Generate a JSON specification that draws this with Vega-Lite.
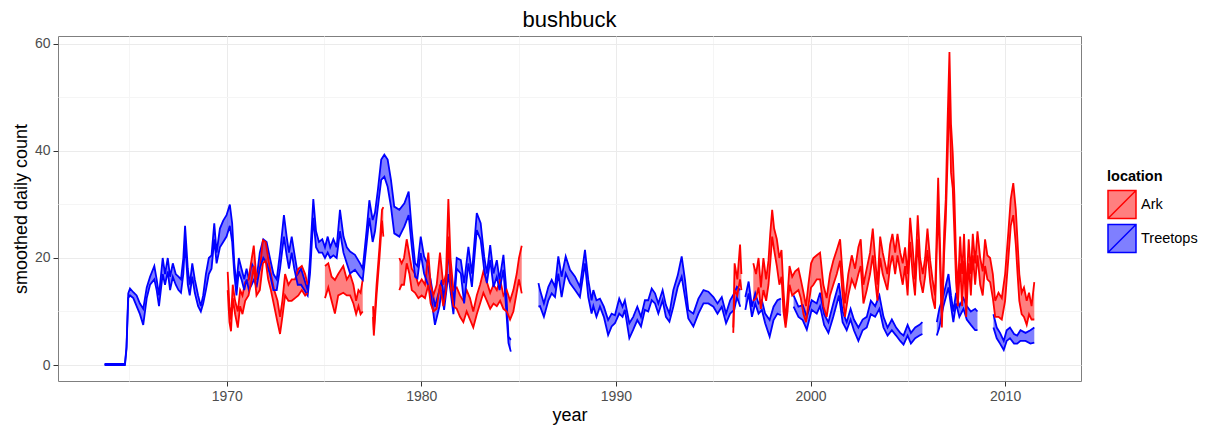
{
"$schema": "https://vega.github.io/schema/vega-lite/v6.json",
"width": 1023, "height": 345,
"autosize": "none",
"padding": {"left": 58, "top": 36, "right": 126, "bottom": 51},
"background": "white",
"title": {"text": "bushbuck", "fontSize": 22, "font": "Liberation Sans", "fontWeight": "normal", "color": "black", "anchor": "middle", "offset": 4},
"config": {
  "font": "Liberation Sans",
  "view": {"stroke": "#7F7F7F", "strokeWidth": 1},
  "axis": {"domain": false, "labelFont": "Liberation Sans", "titleFont": "Liberation Sans", "labelFontSize": 14, "labelColor": "#4D4D4D", "titleFontSize": 18, "titleFontWeight": "normal", "titleColor": "black", "tickColor": "#333333", "tickSize": 5, "tickWidth": 1}
},
"data": {"values": [
{"loc":"Treetops","seg":"T1","year":1963.72,"lo":0,"hi":0.2},
{"loc":"Treetops","seg":"T1","year":1964.77,"lo":0,"hi":0.2},
{"loc":"Treetops","seg":"T1","year":1964.85,"lo":3,"hi":3.4},
{"loc":"Treetops","seg":"T1","year":1964.94,"lo":12.5,"hi":13.4},
{"loc":"Treetops","seg":"T1","year":1965.03,"lo":13,"hi":14.3},
{"loc":"Treetops","seg":"T1","year":1965.2,"lo":12.5,"hi":13.6},
{"loc":"Treetops","seg":"T1","year":1965.37,"lo":11,"hi":13},
{"loc":"Treetops","seg":"T1","year":1965.54,"lo":9.5,"hi":11.5},
{"loc":"Treetops","seg":"T1","year":1965.71,"lo":7.5,"hi":10.5},
{"loc":"Treetops","seg":"T1","year":1965.89,"lo":12.5,"hi":14.5},
{"loc":"Treetops","seg":"T1","year":1966.06,"lo":15,"hi":16.5},
{"loc":"Treetops","seg":"T1","year":1966.28,"lo":16,"hi":18.5},
{"loc":"Treetops","seg":"T1","year":1966.4,"lo":14,"hi":16},
{"loc":"Treetops","seg":"T1","year":1966.52,"lo":11,"hi":13},
{"loc":"Treetops","seg":"T1","year":1966.71,"lo":17,"hi":20},
{"loc":"Treetops","seg":"T1","year":1966.83,"lo":15,"hi":17},
{"loc":"Treetops","seg":"T1","year":1966.97,"lo":17.5,"hi":20},
{"loc":"Treetops","seg":"T1","year":1967.09,"lo":14,"hi":16.5},
{"loc":"Treetops","seg":"T1","year":1967.23,"lo":16.5,"hi":19},
{"loc":"Treetops","seg":"T1","year":1967.38,"lo":15,"hi":17},
{"loc":"Treetops","seg":"T1","year":1967.52,"lo":14,"hi":16.5},
{"loc":"Treetops","seg":"T1","year":1967.65,"lo":13.5,"hi":16},
{"loc":"Treetops","seg":"T1","year":1967.77,"lo":17,"hi":20},
{"loc":"Treetops","seg":"T1","year":1967.86,"lo":23,"hi":26},
{"loc":"Treetops","seg":"T1","year":1968.0,"lo":15,"hi":18},
{"loc":"Treetops","seg":"T1","year":1968.1,"lo":13,"hi":15},
{"loc":"Treetops","seg":"T1","year":1968.23,"lo":16.5,"hi":19},
{"loc":"Treetops","seg":"T1","year":1968.36,"lo":13.5,"hi":16},
{"loc":"Treetops","seg":"T1","year":1968.53,"lo":11,"hi":13},
{"loc":"Treetops","seg":"T1","year":1968.67,"lo":10,"hi":11},
{"loc":"Treetops","seg":"T1","year":1968.79,"lo":11.5,"hi":13},
{"loc":"Treetops","seg":"T1","year":1968.93,"lo":14,"hi":17},
{"loc":"Treetops","seg":"T1","year":1969.08,"lo":17,"hi":20},
{"loc":"Treetops","seg":"T1","year":1969.22,"lo":18,"hi":20.5},
{"loc":"Treetops","seg":"T1","year":1969.36,"lo":23.5,"hi":26.5},
{"loc":"Treetops","seg":"T1","year":1969.48,"lo":19,"hi":21},
{"loc":"Treetops","seg":"T1","year":1969.65,"lo":22,"hi":25.5},
{"loc":"Treetops","seg":"T1","year":1969.82,"lo":23,"hi":27},
{"loc":"Treetops","seg":"T1","year":1969.99,"lo":24,"hi":28},
{"loc":"Treetops","seg":"T1","year":1970.16,"lo":26,"hi":30},
{"loc":"Treetops","seg":"T1","year":1970.28,"lo":23,"hi":26.5},
{"loc":"Treetops","seg":"T1","year":1970.39,"lo":17,"hi":19},
{"loc":"Treetops","seg":"T1","year":1970.5,"lo":13,"hi":15},
{"loc":"Treetops","seg":"T1","year":1970.62,"lo":17.5,"hi":20},
{"loc":"Treetops","seg":"T1","year":1970.76,"lo":16,"hi":18},
{"loc":"Treetops","seg":"T1","year":1970.9,"lo":14,"hi":16},
{"loc":"Treetops","seg":"T1","year":1971.02,"lo":16,"hi":18},
{"loc":"Treetops","seg":"T1","year":1971.14,"lo":14,"hi":16},
{"loc":"Treetops","seg":"T1","year":1971.28,"lo":15,"hi":19},
{"loc":"Treetops","seg":"T1","year":1971.41,"lo":16,"hi":18},
{"loc":"Treetops","seg":"T1","year":1971.53,"lo":14.5,"hi":16},
{"loc":"Treetops","seg":"T1","year":1971.7,"lo":18,"hi":21},
{"loc":"Treetops","seg":"T1","year":1971.88,"lo":20,"hi":23.5},
{"loc":"Treetops","seg":"T1","year":1972.05,"lo":19,"hi":23},
{"loc":"Treetops","seg":"T1","year":1972.22,"lo":17,"hi":20},
{"loc":"Treetops","seg":"T1","year":1972.4,"lo":14,"hi":17},
{"loc":"Treetops","seg":"T1","year":1972.57,"lo":14,"hi":16},
{"loc":"Treetops","seg":"T1","year":1972.74,"lo":18,"hi":21},
{"loc":"Treetops","seg":"T1","year":1972.94,"lo":24,"hi":28},
{"loc":"Treetops","seg":"T1","year":1973.08,"lo":20.5,"hi":24},
{"loc":"Treetops","seg":"T1","year":1973.2,"lo":18,"hi":21},
{"loc":"Treetops","seg":"T1","year":1973.34,"lo":21,"hi":24},
{"loc":"Treetops","seg":"T1","year":1973.47,"lo":18,"hi":21},
{"loc":"Treetops","seg":"T1","year":1973.65,"lo":15,"hi":17},
{"loc":"Treetops","seg":"T1","year":1973.82,"lo":15,"hi":18},
{"loc":"Treetops","seg":"T1","year":1973.99,"lo":14,"hi":16},
{"loc":"Treetops","seg":"T1","year":1974.16,"lo":13,"hi":14},
{"loc":"Treetops","seg":"T1","year":1974.28,"lo":17,"hi":20},
{"loc":"Treetops","seg":"T1","year":1974.45,"lo":27.5,"hi":31},
{"loc":"Treetops","seg":"T1","year":1974.59,"lo":22,"hi":25},
{"loc":"Treetops","seg":"T1","year":1974.74,"lo":21,"hi":23},
{"loc":"Treetops","seg":"T1","year":1974.91,"lo":21,"hi":23.5},
{"loc":"Treetops","seg":"T1","year":1975.05,"lo":20,"hi":22},
{"loc":"Treetops","seg":"T1","year":1975.19,"lo":21,"hi":24},
{"loc":"Treetops","seg":"T1","year":1975.32,"lo":20,"hi":22},
{"loc":"Treetops","seg":"T1","year":1975.48,"lo":20.5,"hi":23.5},
{"loc":"Treetops","seg":"T1","year":1975.65,"lo":20,"hi":22},
{"loc":"Treetops","seg":"T1","year":1975.82,"lo":25,"hi":29},
{"loc":"Treetops","seg":"T1","year":1976.0,"lo":21,"hi":24},
{"loc":"Treetops","seg":"T1","year":1976.17,"lo":19,"hi":22},
{"loc":"Treetops","seg":"T1","year":1976.34,"lo":17.1,"hi":21.2},
{"loc":"Treetops","seg":"T1","year":1976.59,"lo":17.8,"hi":20.6},
{"loc":"Treetops","seg":"T1","year":1976.85,"lo":16.5,"hi":19},
{"loc":"Treetops","seg":"T1","year":1976.99,"lo":15.9,"hi":18},
{"loc":"Treetops","seg":"T1","year":1977.19,"lo":22.7,"hi":25.2},
{"loc":"Treetops","seg":"T1","year":1977.33,"lo":27.5,"hi":30.8},
{"loc":"Treetops","seg":"T1","year":1977.5,"lo":23,"hi":27.1},
{"loc":"Treetops","seg":"T1","year":1977.62,"lo":25,"hi":28.5},
{"loc":"Treetops","seg":"T1","year":1977.77,"lo":29.6,"hi":32.8},
{"loc":"Treetops","seg":"T1","year":1977.94,"lo":34.6,"hi":38.4},
{"loc":"Treetops","seg":"T1","year":1978.1,"lo":35.2,"hi":39.3},
{"loc":"Treetops","seg":"T1","year":1978.27,"lo":33.3,"hi":38.4},
{"loc":"Treetops","seg":"T1","year":1978.44,"lo":29.6,"hi":34.6},
{"loc":"Treetops","seg":"T1","year":1978.61,"lo":24.6,"hi":29.6},
{"loc":"Treetops","seg":"T1","year":1978.87,"lo":24,"hi":29},
{"loc":"Treetops","seg":"T1","year":1979.13,"lo":25.9,"hi":30.2},
{"loc":"Treetops","seg":"T1","year":1979.35,"lo":28,"hi":32.4},
{"loc":"Treetops","seg":"T1","year":1979.51,"lo":22.1,"hi":25.2},
{"loc":"Treetops","seg":"T1","year":1979.68,"lo":16.5,"hi":19},
{"loc":"Treetops","seg":"T1","year":1979.8,"lo":16.2,"hi":18.5},
{"loc":"Treetops","seg":"T1","year":1979.97,"lo":20.9,"hi":24},
{"loc":"Treetops","seg":"T1","year":1980.14,"lo":17.1,"hi":20.3},
{"loc":"Treetops","seg":"T1","year":1980.31,"lo":15.3,"hi":19},
{"loc":"Treetops","seg":"T1","year":1980.48,"lo":13.4,"hi":15.9},
{"loc":"Treetops","seg":"T1","year":1980.7,"lo":7.5,"hi":10.9},
{"loc":"Treetops","seg":"T1","year":1980.93,"lo":10.9,"hi":14},
{"loc":"Treetops","seg":"T1","year":1981.05,"lo":14,"hi":15.9},
{"loc":"Treetops","seg":"T1","year":1981.17,"lo":10.3,"hi":12.1},
{"loc":"Treetops","seg":"T1","year":1981.39,"lo":17,"hi":21},
{"loc":"Treetops","seg":"T1","year":1981.65,"lo":9.5,"hi":11.5},
{"loc":"Treetops","seg":"T1","year":1981.82,"lo":18,"hi":20},
{"loc":"Treetops","seg":"T1","year":1982.03,"lo":17.1,"hi":19.6},
{"loc":"Treetops","seg":"T1","year":1982.2,"lo":11.5,"hi":15.3},
{"loc":"Treetops","seg":"T1","year":1982.42,"lo":19,"hi":22.1},
{"loc":"Treetops","seg":"T1","year":1982.6,"lo":14.6,"hi":17.1},
{"loc":"Treetops","seg":"T1","year":1982.85,"lo":25.2,"hi":28.4},
{"loc":"Treetops","seg":"T1","year":1983.05,"lo":23.4,"hi":26.5},
{"loc":"Treetops","seg":"T1","year":1983.23,"lo":17.8,"hi":20.3},
{"loc":"Treetops","seg":"T1","year":1983.37,"lo":15.3,"hi":17.1},
{"loc":"Treetops","seg":"T1","year":1983.54,"lo":19.6,"hi":22.4},
{"loc":"Treetops","seg":"T1","year":1983.71,"lo":14.6,"hi":17.1},
{"loc":"Treetops","seg":"T1","year":1983.88,"lo":16.5,"hi":19.6},
{"loc":"Treetops","seg":"T1","year":1984.02,"lo":14,"hi":15.9},
{"loc":"Treetops","seg":"T1","year":1984.22,"lo":17.8,"hi":20.6},
{"loc":"Treetops","seg":"T1","year":1984.34,"lo":11.5,"hi":15.3},
{"loc":"Treetops","seg":"T1","year":1984.48,"lo":4.1,"hi":5.3},
{"loc":"Treetops","seg":"T1","year":1984.6,"lo":2.5,"hi":4.7},
{"loc":"Treetops","seg":"T2","year":1986.02,"lo":10.9,"hi":15.3},
{"loc":"Treetops","seg":"T2","year":1986.1,"lo":11,"hi":14},
{"loc":"Treetops","seg":"T2","year":1986.3,"lo":9,"hi":11.5},
{"loc":"Treetops","seg":"T2","year":1986.53,"lo":12.1,"hi":14.6},
{"loc":"Treetops","seg":"T2","year":1986.7,"lo":13.4,"hi":15.9},
{"loc":"Treetops","seg":"T2","year":1986.87,"lo":12.7,"hi":14.6},
{"loc":"Treetops","seg":"T2","year":1987.04,"lo":17.1,"hi":20.3},
{"loc":"Treetops","seg":"T2","year":1987.21,"lo":12.7,"hi":16.5},
{"loc":"Treetops","seg":"T2","year":1987.42,"lo":17.1,"hi":20.3},
{"loc":"Treetops","seg":"T2","year":1987.64,"lo":15.3,"hi":17.8},
{"loc":"Treetops","seg":"T2","year":1987.9,"lo":14,"hi":16.5},
{"loc":"Treetops","seg":"T2","year":1988.15,"lo":12.7,"hi":14.6},
{"loc":"Treetops","seg":"T2","year":1988.41,"lo":19,"hi":21.5},
{"loc":"Treetops","seg":"T2","year":1988.58,"lo":12.7,"hi":15.9},
{"loc":"Treetops","seg":"T2","year":1988.75,"lo":9.6,"hi":12.1},
{"loc":"Treetops","seg":"T2","year":1988.84,"lo":11,"hi":14},
{"loc":"Treetops","seg":"T2","year":1989.0,"lo":9,"hi":12.1},
{"loc":"Treetops","seg":"T2","year":1989.18,"lo":10.9,"hi":12.4},
{"loc":"Treetops","seg":"T2","year":1989.38,"lo":9,"hi":10.9},
{"loc":"Treetops","seg":"T2","year":1989.6,"lo":5.6,"hi":8.4},
{"loc":"Treetops","seg":"T2","year":1989.78,"lo":7.2,"hi":9.6},
{"loc":"Treetops","seg":"T2","year":1989.95,"lo":7.8,"hi":9.3},
{"loc":"Treetops","seg":"T2","year":1990.17,"lo":9.6,"hi":12.4},
{"loc":"Treetops","seg":"T2","year":1990.34,"lo":9,"hi":10.9},
{"loc":"Treetops","seg":"T2","year":1990.46,"lo":10.3,"hi":12.1},
{"loc":"Treetops","seg":"T2","year":1990.69,"lo":5,"hi":7.8},
{"loc":"Treetops","seg":"T2","year":1990.89,"lo":6.6,"hi":9},
{"loc":"Treetops","seg":"T2","year":1991.1,"lo":8.4,"hi":10.9},
{"loc":"Treetops","seg":"T2","year":1991.29,"lo":7.2,"hi":9},
{"loc":"Treetops","seg":"T2","year":1991.49,"lo":10.3,"hi":12.1},
{"loc":"Treetops","seg":"T2","year":1991.66,"lo":10,"hi":12.1},
{"loc":"Treetops","seg":"T2","year":1991.84,"lo":12.1,"hi":14.3},
{"loc":"Treetops","seg":"T2","year":1992.01,"lo":11.5,"hi":13.4},
{"loc":"Treetops","seg":"T2","year":1992.18,"lo":9.6,"hi":11.5},
{"loc":"Treetops","seg":"T2","year":1992.4,"lo":12.1,"hi":14},
{"loc":"Treetops","seg":"T2","year":1992.57,"lo":9,"hi":11.2},
{"loc":"Treetops","seg":"T2","year":1992.75,"lo":8.1,"hi":9.6},
{"loc":"Treetops","seg":"T2","year":1992.95,"lo":10.9,"hi":14},
{"loc":"Treetops","seg":"T2","year":1993.18,"lo":14.6,"hi":16.8},
{"loc":"Treetops","seg":"T2","year":1993.38,"lo":16.5,"hi":20.3},
{"loc":"Treetops","seg":"T2","year":1993.55,"lo":12.7,"hi":15.9},
{"loc":"Treetops","seg":"T2","year":1993.72,"lo":8.7,"hi":10.3},
{"loc":"Treetops","seg":"T2","year":1993.98,"lo":7.2,"hi":9.6},
{"loc":"Treetops","seg":"T2","year":1994.24,"lo":9.6,"hi":12.4},
{"loc":"Treetops","seg":"T2","year":1994.5,"lo":11.5,"hi":14},
{"loc":"Treetops","seg":"T2","year":1994.75,"lo":11.5,"hi":13.7},
{"loc":"Treetops","seg":"T2","year":1995.01,"lo":10.9,"hi":12.7},
{"loc":"Treetops","seg":"T2","year":1995.22,"lo":9.6,"hi":11.5},
{"loc":"Treetops","seg":"T2","year":1995.44,"lo":10.9,"hi":12.7},
{"loc":"Treetops","seg":"T2","year":1995.66,"lo":7.8,"hi":9.6},
{"loc":"Treetops","seg":"T2","year":1995.87,"lo":9.6,"hi":12.1},
{"loc":"Treetops","seg":"T2","year":1996.08,"lo":10.3,"hi":13.4},
{"loc":"Treetops","seg":"T2","year":1996.22,"lo":12.7,"hi":14.6},
{"loc":"Treetops","seg":"T2","year":1996.39,"lo":10.9,"hi":14},
{"loc":"Treetops","seg":"T3","year":1996.65,"lo":10.3,"hi":12.7},
{"loc":"Treetops","seg":"T3","year":1996.82,"lo":13.4,"hi":15.6},
{"loc":"Treetops","seg":"T3","year":1996.99,"lo":9,"hi":10.9},
{"loc":"Treetops","seg":"T3","year":1997.16,"lo":11.5,"hi":13.4},
{"loc":"Treetops","seg":"T3","year":1997.33,"lo":9.6,"hi":11.5},
{"loc":"Treetops","seg":"T3","year":1997.5,"lo":10.3,"hi":12.1},
{"loc":"Treetops","seg":"T3","year":1997.67,"lo":7.8,"hi":9.6},
{"loc":"Treetops","seg":"T3","year":1997.9,"lo":5.3,"hi":8.4},
{"loc":"Treetops","seg":"T3","year":1998.1,"lo":8.4,"hi":10.9},
{"loc":"Treetops","seg":"T3","year":1998.3,"lo":9.6,"hi":12.1},
{"loc":"Treetops","seg":"T3","year":1998.48,"lo":9.3,"hi":12.4},
{"loc":"Treetops","seg":"T4","year":1999.13,"lo":10.9,"hi":13},
{"loc":"Treetops","seg":"T4","year":1999.38,"lo":9,"hi":10.9},
{"loc":"Treetops","seg":"T4","year":1999.6,"lo":8.4,"hi":11.2},
{"loc":"Treetops","seg":"T4","year":1999.81,"lo":6.6,"hi":9},
{"loc":"Treetops","seg":"T4","year":2000.06,"lo":10.3,"hi":12.1},
{"loc":"Treetops","seg":"T4","year":2000.32,"lo":9.6,"hi":11.5},
{"loc":"Treetops","seg":"T4","year":2000.49,"lo":11,"hi":13.5},
{"loc":"Treetops","seg":"T4","year":2000.7,"lo":7.5,"hi":9.5},
{"loc":"Treetops","seg":"T4","year":2000.92,"lo":6,"hi":8},
{"loc":"Treetops","seg":"T4","year":2001.17,"lo":9,"hi":11.5},
{"loc":"Treetops","seg":"T4","year":2001.46,"lo":13,"hi":15.3},
{"loc":"Treetops","seg":"T4","year":2001.65,"lo":8,"hi":10},
{"loc":"Treetops","seg":"T4","year":2001.86,"lo":6.5,"hi":8},
{"loc":"Treetops","seg":"T4","year":2002.06,"lo":8.5,"hi":10.5},
{"loc":"Treetops","seg":"T4","year":2002.23,"lo":6.5,"hi":8.5},
{"loc":"Treetops","seg":"T4","year":2002.46,"lo":4.5,"hi":7},
{"loc":"Treetops","seg":"T4","year":2002.68,"lo":6.5,"hi":8.5},
{"loc":"Treetops","seg":"T4","year":2002.89,"lo":7,"hi":9},
{"loc":"Treetops","seg":"T4","year":2003.1,"lo":9.5,"hi":12},
{"loc":"Treetops","seg":"T4","year":2003.32,"lo":9,"hi":11},
{"loc":"Treetops","seg":"T4","year":2003.54,"lo":10.5,"hi":13},
{"loc":"Treetops","seg":"T4","year":2003.75,"lo":7,"hi":9},
{"loc":"Treetops","seg":"T4","year":2003.96,"lo":5.5,"hi":7},
{"loc":"Treetops","seg":"T4","year":2004.18,"lo":6.5,"hi":8.5},
{"loc":"Treetops","seg":"T4","year":2004.4,"lo":5.5,"hi":7},
{"loc":"Treetops","seg":"T4","year":2004.61,"lo":4.5,"hi":6},
{"loc":"Treetops","seg":"T4","year":2004.78,"lo":3.8,"hi":5.5},
{"loc":"Treetops","seg":"T4","year":2004.99,"lo":5.5,"hi":7.5},
{"loc":"Treetops","seg":"T4","year":2005.16,"lo":4,"hi":6},
{"loc":"Treetops","seg":"T4","year":2005.38,"lo":5,"hi":7},
{"loc":"Treetops","seg":"T4","year":2005.6,"lo":5.5,"hi":7.5},
{"loc":"Treetops","seg":"T4","year":2005.75,"lo":5.8,"hi":8},
{"loc":"Treetops","seg":"T5","year":2006.49,"lo":5.5,"hi":8},
{"loc":"Treetops","seg":"T5","year":2006.62,"lo":7,"hi":10.5},
{"loc":"Treetops","seg":"T5","year":2006.83,"lo":11,"hi":13},
{"loc":"Treetops","seg":"T5","year":2007.09,"lo":14.5,"hi":17},
{"loc":"Treetops","seg":"T5","year":2007.22,"lo":11,"hi":13},
{"loc":"Treetops","seg":"T5","year":2007.34,"lo":8,"hi":10},
{"loc":"Treetops","seg":"T5","year":2007.48,"lo":11.5,"hi":13.5},
{"loc":"Treetops","seg":"T5","year":2007.65,"lo":9,"hi":11},
{"loc":"Treetops","seg":"T5","year":2007.86,"lo":10.5,"hi":12.5},
{"loc":"Treetops","seg":"T5","year":2008.03,"lo":8.5,"hi":11},
{"loc":"Treetops","seg":"T5","year":2008.24,"lo":7.5,"hi":10},
{"loc":"Treetops","seg":"T5","year":2008.46,"lo":6.5,"hi":10.5},
{"loc":"Treetops","seg":"T5","year":2008.58,"lo":6.5,"hi":10},
{"loc":"Treetops","seg":"T6","year":2009.4,"lo":7,"hi":9.5},
{"loc":"Treetops","seg":"T6","year":2009.57,"lo":5,"hi":7},
{"loc":"Treetops","seg":"T6","year":2009.74,"lo":4,"hi":6},
{"loc":"Treetops","seg":"T6","year":2009.93,"lo":2.8,"hi":4.5},
{"loc":"Treetops","seg":"T6","year":2010.08,"lo":4.5,"hi":6.5},
{"loc":"Treetops","seg":"T6","year":2010.25,"lo":5,"hi":7},
{"loc":"Treetops","seg":"T6","year":2010.46,"lo":4,"hi":5.8},
{"loc":"Treetops","seg":"T6","year":2010.62,"lo":4,"hi":5.5},
{"loc":"Treetops","seg":"T6","year":2010.79,"lo":4.5,"hi":6.5},
{"loc":"Treetops","seg":"T6","year":2011.05,"lo":4.5,"hi":6},
{"loc":"Treetops","seg":"T6","year":2011.3,"lo":4,"hi":6.5},
{"loc":"Treetops","seg":"T6","year":2011.5,"lo":4.2,"hi":7},
{"loc":"Ark","seg":"A1","year":1970.05,"lo":14,"hi":17.4},
{"loc":"Ark","seg":"A1","year":1970.14,"lo":8,"hi":11},
{"loc":"Ark","seg":"A1","year":1970.22,"lo":6.3,"hi":8.5},
{"loc":"Ark","seg":"A1","year":1970.31,"lo":12.5,"hi":15},
{"loc":"Ark","seg":"A1","year":1970.43,"lo":9.5,"hi":12},
{"loc":"Ark","seg":"A1","year":1970.57,"lo":7,"hi":10},
{"loc":"Ark","seg":"A1","year":1970.69,"lo":11,"hi":14},
{"loc":"Ark","seg":"A1","year":1970.81,"lo":9.5,"hi":13},
{"loc":"Ark","seg":"A1","year":1970.95,"lo":12,"hi":15.5},
{"loc":"Ark","seg":"A1","year":1971.12,"lo":13,"hi":16},
{"loc":"Ark","seg":"A1","year":1971.29,"lo":16,"hi":20},
{"loc":"Ark","seg":"A1","year":1971.39,"lo":18.5,"hi":22.3},
{"loc":"Ark","seg":"A1","year":1971.53,"lo":13,"hi":16},
{"loc":"Ark","seg":"A1","year":1971.7,"lo":14,"hi":18},
{"loc":"Ark","seg":"A1","year":1971.86,"lo":19,"hi":23.3},
{"loc":"Ark","seg":"A1","year":1972.0,"lo":19.5,"hi":23},
{"loc":"Ark","seg":"A1","year":1972.13,"lo":16,"hi":20},
{"loc":"Ark","seg":"A1","year":1972.27,"lo":14,"hi":17},
{"loc":"Ark","seg":"A1","year":1972.44,"lo":11,"hi":14},
{"loc":"Ark","seg":"A1","year":1972.61,"lo":8,"hi":12},
{"loc":"Ark","seg":"A1","year":1972.74,"lo":5.8,"hi":9},
{"loc":"Ark","seg":"A1","year":1972.86,"lo":9,"hi":12},
{"loc":"Ark","seg":"A1","year":1973.0,"lo":13,"hi":17},
{"loc":"Ark","seg":"A1","year":1973.17,"lo":12,"hi":15},
{"loc":"Ark","seg":"A1","year":1973.34,"lo":12,"hi":16},
{"loc":"Ark","seg":"A1","year":1973.51,"lo":12.5,"hi":16},
{"loc":"Ark","seg":"A1","year":1973.68,"lo":13,"hi":18},
{"loc":"Ark","seg":"A1","year":1973.86,"lo":14,"hi":18.5},
{"loc":"Ark","seg":"A1","year":1974.03,"lo":13,"hi":17},
{"loc":"Ark","seg":"A1","year":1974.16,"lo":13.5,"hi":15},
{"loc":"Ark","seg":"A2","year":1975.05,"lo":12.5,"hi":18.5},
{"loc":"Ark","seg":"A2","year":1975.22,"lo":14.5,"hi":19},
{"loc":"Ark","seg":"A2","year":1975.39,"lo":12,"hi":16.5},
{"loc":"Ark","seg":"A2","year":1975.56,"lo":9.6,"hi":15.9},
{"loc":"Ark","seg":"A2","year":1975.73,"lo":13,"hi":17},
{"loc":"Ark","seg":"A2","year":1975.99,"lo":13.5,"hi":18.5},
{"loc":"Ark","seg":"A2","year":1976.17,"lo":13,"hi":16},
{"loc":"Ark","seg":"A2","year":1976.34,"lo":13,"hi":17},
{"loc":"Ark","seg":"A2","year":1976.51,"lo":11.5,"hi":15},
{"loc":"Ark","seg":"A2","year":1976.65,"lo":9.5,"hi":12},
{"loc":"Ark","seg":"A2","year":1976.77,"lo":11,"hi":14},
{"loc":"Ark","seg":"A2","year":1976.88,"lo":9.5,"hi":13.5},
{"loc":"Ark","seg":"A2","year":1976.99,"lo":10,"hi":16},
{"loc":"Ark","seg":"A3","year":1977.52,"lo":9,"hi":11},
{"loc":"Ark","seg":"A3","year":1977.56,"lo":5.5,"hi":6.5},
{"loc":"Ark","seg":"A3","year":1977.7,"lo":13,"hi":15},
{"loc":"Ark","seg":"A3","year":1977.85,"lo":20,"hi":22},
{"loc":"Ark","seg":"A3","year":1977.98,"lo":27,"hi":29},
{"loc":"Ark","seg":"A3","year":1978.05,"lo":24,"hi":29.5},
{"loc":"Ark","seg":"A4","year":1978.87,"lo":14,"hi":20},
{"loc":"Ark","seg":"A4","year":1978.99,"lo":15,"hi":19},
{"loc":"Ark","seg":"A4","year":1979.11,"lo":15,"hi":20},
{"loc":"Ark","seg":"A4","year":1979.25,"lo":19,"hi":23.5},
{"loc":"Ark","seg":"A4","year":1979.39,"lo":17,"hi":20.5},
{"loc":"Ark","seg":"A4","year":1979.51,"lo":14,"hi":18},
{"loc":"Ark","seg":"A4","year":1979.68,"lo":13.5,"hi":17},
{"loc":"Ark","seg":"A4","year":1979.85,"lo":12.5,"hi":15},
{"loc":"Ark","seg":"A4","year":1980.02,"lo":13,"hi":16},
{"loc":"Ark","seg":"A4","year":1980.19,"lo":12.5,"hi":15},
{"loc":"Ark","seg":"A4","year":1980.36,"lo":15,"hi":21},
{"loc":"Ark","seg":"A4","year":1980.48,"lo":11.5,"hi":15},
{"loc":"Ark","seg":"A4","year":1980.62,"lo":10,"hi":13},
{"loc":"Ark","seg":"A4","year":1980.79,"lo":10.5,"hi":15},
{"loc":"Ark","seg":"A4","year":1980.96,"lo":15,"hi":21},
{"loc":"Ark","seg":"A4","year":1981.13,"lo":11,"hi":15},
{"loc":"Ark","seg":"A4","year":1981.27,"lo":14,"hi":17},
{"loc":"Ark","seg":"A4","year":1981.39,"lo":24,"hi":31},
{"loc":"Ark","seg":"A4","year":1981.5,"lo":15,"hi":20},
{"loc":"Ark","seg":"A4","year":1981.65,"lo":11,"hi":14},
{"loc":"Ark","seg":"A4","year":1981.82,"lo":10.5,"hi":14.5},
{"loc":"Ark","seg":"A4","year":1981.99,"lo":9,"hi":13},
{"loc":"Ark","seg":"A4","year":1982.16,"lo":8,"hi":12},
{"loc":"Ark","seg":"A4","year":1982.33,"lo":10,"hi":14},
{"loc":"Ark","seg":"A4","year":1982.5,"lo":8.5,"hi":12.5},
{"loc":"Ark","seg":"A4","year":1982.67,"lo":7,"hi":10},
{"loc":"Ark","seg":"A4","year":1982.85,"lo":9.5,"hi":13},
{"loc":"Ark","seg":"A4","year":1983.02,"lo":11.5,"hi":15},
{"loc":"Ark","seg":"A4","year":1983.19,"lo":13.5,"hi":17.5},
{"loc":"Ark","seg":"A4","year":1983.37,"lo":12,"hi":15.5},
{"loc":"Ark","seg":"A4","year":1983.54,"lo":10.5,"hi":13.5},
{"loc":"Ark","seg":"A4","year":1983.71,"lo":11.5,"hi":15},
{"loc":"Ark","seg":"A4","year":1983.88,"lo":11,"hi":14},
{"loc":"Ark","seg":"A4","year":1984.05,"lo":12,"hi":16},
{"loc":"Ark","seg":"A4","year":1984.22,"lo":10.5,"hi":13},
{"loc":"Ark","seg":"A4","year":1984.39,"lo":10,"hi":14},
{"loc":"Ark","seg":"A4","year":1984.56,"lo":8.5,"hi":12},
{"loc":"Ark","seg":"A4","year":1984.73,"lo":10,"hi":14},
{"loc":"Ark","seg":"A4","year":1984.9,"lo":13.5,"hi":17},
{"loc":"Ark","seg":"A4","year":1985.02,"lo":16,"hi":20},
{"loc":"Ark","seg":"A4","year":1985.16,"lo":13.4,"hi":22.3},
{"loc":"Ark","seg":"A5","year":1996.03,"lo":6,"hi":7},
{"loc":"Ark","seg":"A5","year":1996.1,"lo":14,"hi":19},
{"loc":"Ark","seg":"A5","year":1996.24,"lo":13,"hi":16},
{"loc":"Ark","seg":"A5","year":1996.38,"lo":16,"hi":22.5},
{"loc":"Ark","seg":"A5","year":1996.45,"lo":14,"hi":17},
{"loc":"Ark","seg":"A6","year":1997.06,"lo":12,"hi":19},
{"loc":"Ark","seg":"A6","year":1997.2,"lo":12.5,"hi":17},
{"loc":"Ark","seg":"A6","year":1997.33,"lo":14.5,"hi":20},
{"loc":"Ark","seg":"A6","year":1997.45,"lo":10.5,"hi":14.5},
{"loc":"Ark","seg":"A6","year":1997.58,"lo":14,"hi":20},
{"loc":"Ark","seg":"A6","year":1997.72,"lo":12,"hi":16},
{"loc":"Ark","seg":"A6","year":1997.84,"lo":15,"hi":19.5},
{"loc":"Ark","seg":"A6","year":1997.93,"lo":19,"hi":24.5},
{"loc":"Ark","seg":"A6","year":1998.03,"lo":24,"hi":29},
{"loc":"Ark","seg":"A6","year":1998.13,"lo":21.5,"hi":25.5},
{"loc":"Ark","seg":"A6","year":1998.27,"lo":18.5,"hi":23.5},
{"loc":"Ark","seg":"A6","year":1998.4,"lo":15,"hi":20},
{"loc":"Ark","seg":"A6","year":1998.51,"lo":16.5,"hi":21.5},
{"loc":"Ark","seg":"A6","year":1998.61,"lo":10,"hi":14},
{"loc":"Ark","seg":"A6","year":1998.72,"lo":7,"hi":8},
{"loc":"Ark","seg":"A6","year":1998.82,"lo":10,"hi":13},
{"loc":"Ark","seg":"A6","year":1998.92,"lo":15,"hi":18.5},
{"loc":"Ark","seg":"A6","year":1999.06,"lo":13,"hi":16.5},
{"loc":"Ark","seg":"A6","year":1999.21,"lo":13.5,"hi":17.5},
{"loc":"Ark","seg":"A6","year":1999.38,"lo":14,"hi":18},
{"loc":"Ark","seg":"A6","year":1999.5,"lo":12.5,"hi":16},
{"loc":"Ark","seg":"A6","year":1999.64,"lo":9.5,"hi":13.5},
{"loc":"Ark","seg":"A6","year":1999.77,"lo":8,"hi":11},
{"loc":"Ark","seg":"A6","year":1999.89,"lo":11,"hi":15},
{"loc":"Ark","seg":"A6","year":2000.03,"lo":14.5,"hi":19},
{"loc":"Ark","seg":"A6","year":2000.15,"lo":15,"hi":20},
{"loc":"Ark","seg":"A6","year":2000.32,"lo":16,"hi":20.5},
{"loc":"Ark","seg":"A6","year":2000.49,"lo":16,"hi":21},
{"loc":"Ark","seg":"A6","year":2000.66,"lo":11,"hi":15},
{"loc":"Ark","seg":"A6","year":2000.83,"lo":9,"hi":12.5},
{"loc":"Ark","seg":"A6","year":2001.0,"lo":13,"hi":17},
{"loc":"Ark","seg":"A6","year":2001.17,"lo":15,"hi":19.5},
{"loc":"Ark","seg":"A6","year":2001.35,"lo":17,"hi":21.5},
{"loc":"Ark","seg":"A6","year":2001.52,"lo":19.5,"hi":23.5},
{"loc":"Ark","seg":"A6","year":2001.65,"lo":13,"hi":17},
{"loc":"Ark","seg":"A6","year":2001.77,"lo":9,"hi":11.5},
{"loc":"Ark","seg":"A6","year":2001.94,"lo":13,"hi":17},
{"loc":"Ark","seg":"A6","year":2002.12,"lo":16,"hi":20.5},
{"loc":"Ark","seg":"A6","year":2002.29,"lo":14.5,"hi":18},
{"loc":"Ark","seg":"A6","year":2002.46,"lo":17,"hi":22},
{"loc":"Ark","seg":"A6","year":2002.58,"lo":18.5,"hi":23.5},
{"loc":"Ark","seg":"A6","year":2002.72,"lo":11.5,"hi":15},
{"loc":"Ark","seg":"A6","year":2002.89,"lo":14,"hi":18},
{"loc":"Ark","seg":"A6","year":2003.06,"lo":17,"hi":21},
{"loc":"Ark","seg":"A6","year":2003.2,"lo":20.5,"hi":25.5},
{"loc":"Ark","seg":"A6","year":2003.32,"lo":16,"hi":20},
{"loc":"Ark","seg":"A6","year":2003.44,"lo":12,"hi":15},
{"loc":"Ark","seg":"A6","year":2003.58,"lo":20,"hi":24},
{"loc":"Ark","seg":"A6","year":2003.71,"lo":17,"hi":21},
{"loc":"Ark","seg":"A6","year":2003.83,"lo":15.5,"hi":19},
{"loc":"Ark","seg":"A6","year":2003.95,"lo":14,"hi":17},
{"loc":"Ark","seg":"A6","year":2004.09,"lo":18.5,"hi":22.5},
{"loc":"Ark","seg":"A6","year":2004.21,"lo":20.5,"hi":24.5},
{"loc":"Ark","seg":"A6","year":2004.35,"lo":17,"hi":21},
{"loc":"Ark","seg":"A6","year":2004.47,"lo":20.5,"hi":24.5},
{"loc":"Ark","seg":"A6","year":2004.61,"lo":17.5,"hi":21},
{"loc":"Ark","seg":"A6","year":2004.74,"lo":15,"hi":19},
{"loc":"Ark","seg":"A6","year":2004.86,"lo":18.5,"hi":22},
{"loc":"Ark","seg":"A6","year":2004.99,"lo":13,"hi":17},
{"loc":"Ark","seg":"A6","year":2005.12,"lo":23,"hi":27.5},
{"loc":"Ark","seg":"A6","year":2005.25,"lo":17,"hi":22},
{"loc":"Ark","seg":"A6","year":2005.37,"lo":13,"hi":16},
{"loc":"Ark","seg":"A6","year":2005.51,"lo":23.5,"hi":28},
{"loc":"Ark","seg":"A6","year":2005.63,"lo":16,"hi":20},
{"loc":"Ark","seg":"A6","year":2005.77,"lo":13.5,"hi":17},
{"loc":"Ark","seg":"A6","year":2005.89,"lo":16.5,"hi":20},
{"loc":"Ark","seg":"A6","year":2006.01,"lo":21.5,"hi":25.5},
{"loc":"Ark","seg":"A6","year":2006.15,"lo":15.5,"hi":19.5},
{"loc":"Ark","seg":"A6","year":2006.27,"lo":12.5,"hi":16},
{"loc":"Ark","seg":"A6","year":2006.4,"lo":10.5,"hi":13},
{"loc":"Ark","seg":"A6","year":2006.56,"lo":30,"hi":35},
{"loc":"Ark","seg":"A6","year":2006.66,"lo":18,"hi":22},
{"loc":"Ark","seg":"A6","year":2006.75,"lo":7,"hi":10},
{"loc":"Ark","seg":"A6","year":2006.87,"lo":21,"hi":25},
{"loc":"Ark","seg":"A6","year":2006.95,"lo":27,"hi":31},
{"loc":"Ark","seg":"A6","year":2007.04,"lo":38,"hi":45},
{"loc":"Ark","seg":"A6","year":2007.14,"lo":52,"hi":58.5},
{"loc":"Ark","seg":"A6","year":2007.22,"lo":36,"hi":45},
{"loc":"Ark","seg":"A6","year":2007.31,"lo":33,"hi":39.5},
{"loc":"Ark","seg":"A6","year":2007.39,"lo":25,"hi":32},
{"loc":"Ark","seg":"A6","year":2007.48,"lo":15.5,"hi":20},
{"loc":"Ark","seg":"A6","year":2007.57,"lo":11,"hi":14},
{"loc":"Ark","seg":"A6","year":2007.69,"lo":19,"hi":24},
{"loc":"Ark","seg":"A6","year":2007.79,"lo":11,"hi":17},
{"loc":"Ark","seg":"A6","year":2007.89,"lo":19.5,"hi":24.5},
{"loc":"Ark","seg":"A6","year":2008.0,"lo":9,"hi":13},
{"loc":"Ark","seg":"A6","year":2008.13,"lo":19,"hi":23.5},
{"loc":"Ark","seg":"A6","year":2008.24,"lo":13,"hi":17},
{"loc":"Ark","seg":"A6","year":2008.34,"lo":20.5,"hi":24.5},
{"loc":"Ark","seg":"A6","year":2008.46,"lo":15,"hi":19},
{"loc":"Ark","seg":"A6","year":2008.58,"lo":20.5,"hi":25},
{"loc":"Ark","seg":"A6","year":2008.72,"lo":15,"hi":20},
{"loc":"Ark","seg":"A6","year":2008.85,"lo":13,"hi":17.5},
{"loc":"Ark","seg":"A6","year":2008.97,"lo":18.5,"hi":23.5},
{"loc":"Ark","seg":"A6","year":2009.09,"lo":16,"hi":20.5},
{"loc":"Ark","seg":"A6","year":2009.23,"lo":15.5,"hi":20},
{"loc":"Ark","seg":"A6","year":2009.37,"lo":12.5,"hi":17},
{"loc":"Ark","seg":"A6","year":2009.49,"lo":9,"hi":12},
{"loc":"Ark","seg":"A6","year":2009.66,"lo":9,"hi":13.5},
{"loc":"Ark","seg":"A6","year":2009.83,"lo":8.5,"hi":12.5},
{"loc":"Ark","seg":"A6","year":2010.0,"lo":12,"hi":17},
{"loc":"Ark","seg":"A6","year":2010.17,"lo":20,"hi":25},
{"loc":"Ark","seg":"A6","year":2010.29,"lo":26,"hi":31},
{"loc":"Ark","seg":"A6","year":2010.42,"lo":28,"hi":34},
{"loc":"Ark","seg":"A6","year":2010.55,"lo":22.5,"hi":29},
{"loc":"Ark","seg":"A6","year":2010.64,"lo":17,"hi":23},
{"loc":"Ark","seg":"A6","year":2010.73,"lo":12,"hi":17},
{"loc":"Ark","seg":"A6","year":2010.85,"lo":9.5,"hi":13.5},
{"loc":"Ark","seg":"A6","year":2010.97,"lo":9,"hi":14.5},
{"loc":"Ark","seg":"A6","year":2011.11,"lo":7.5,"hi":12},
{"loc":"Ark","seg":"A6","year":2011.23,"lo":9.5,"hi":13.5},
{"loc":"Ark","seg":"A6","year":2011.36,"lo":8.5,"hi":11},
{"loc":"Ark","seg":"A6","year":2011.5,"lo":8.5,"hi":15.5}
]},
"encoding": {
  "x": {"field": "year", "type": "quantitative", "scale": {"domain": [1961.33, 2013.9], "nice": false, "zero": false}},
  "color": {"field": "loc", "type": "nominal", "scale": {"domain": ["Ark", "Treetops"], "range": ["#FF0000", "#0000FF"]},
    "legend": {"orient": "none", "legendX": 1049, "legendY": 134, "padding": 0, "title": "location", "titleFont": "Liberation Sans", "titleFontSize": 14.5, "titleFontWeight": "bold", "titleColor": "black", "titlePadding": 5, "labelFont": "Liberation Sans", "labelFontSize": 14.5, "labelColor": "black", "labelOffset": 4, "symbolType": "M-1,-1H1V1H-1Z M-1,1L1,-1", "symbolSize": 784, "symbolStrokeWidth": 1.5, "rowPadding": 0,
      "encode": {"symbols": {"update": {"fill": {"scale": "color", "field": "value"}, "fillOpacity": {"value": 0.5}, "stroke": {"scale": "color", "field": "value"}, "opacity": {"value": 1}, "strokeWidth": {"value": 1.5}}}}}},
  "detail": {"field": "seg", "type": "nominal"}
},
"layer": [
  {"mark": {"type": "area", "fillOpacity": 0.5, "interpolate": "linear"},
   "encoding": {
     "x": {"field": "year", "type": "quantitative", "axis": {"values": [1965, 1975, 1985, 1995, 2005], "grid": true, "gridColor": "#F5F5F5", "gridWidth": 1, "labels": false, "ticks": false, "title": null, "orient": "bottom"}},
     "y": {"field": "lo", "type": "quantitative", "scale": {"domain": [-2.99, 61.49], "nice": false, "zero": false}, "axis": {"values": [10, 30, 50], "grid": true, "gridColor": "#F5F5F5", "gridWidth": 1, "labels": false, "ticks": false, "title": null, "orient": "left"}},
     "y2": {"field": "hi"}}},
  {"mark": {"type": "line", "strokeWidth": 1.8},
   "encoding": {
     "x": {"field": "year", "type": "quantitative", "axis": {"values": [1970, 1980, 1990, 2000, 2010], "format": "d", "grid": true, "gridColor": "#EBEBEB", "gridWidth": 1, "title": "year", "titlePadding": 3, "labelPadding": 3, "orient": "bottom"}},
     "y": {"field": "hi", "type": "quantitative", "axis": {"values": [0, 20, 40, 60], "grid": true, "gridColor": "#EBEBEB", "gridWidth": 1, "title": "smoothed daily count", "titlePadding": 4, "labelPadding": 3, "orient": "left"}}}},
  {"mark": {"type": "line", "strokeWidth": 1.8},
   "encoding": {
     "x": {"field": "year", "type": "quantitative", "axis": null},
     "y": {"field": "lo", "type": "quantitative", "axis": null}}}
],
"resolve": {"axis": {"x": "independent", "y": "independent"}}
}
